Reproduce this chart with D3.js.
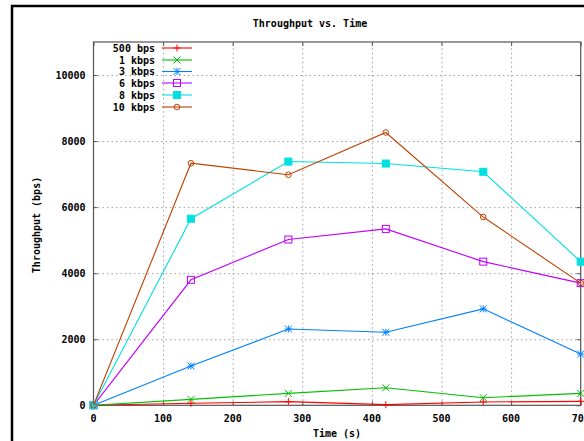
<!DOCTYPE html>
<meta charset="utf-8">
<script src="https://d3js.org/d3.v7.min.js"></script>
<style>
body { margin: 0; background: #fff; }
text { font-family: "DejaVu Sans Mono", monospace; font-weight: bold; font-size: 10px; fill: #000; }
.grid line { stroke: #a0a0a0; stroke-dasharray: 1.5,3; }
.grid path { display: none; }
</style>
<svg width="584" height="441"></svg>
<script>
// data
var times = [0, 140, 280, 420, 560, 700];
var names = ["500 bps", "1 kbps", "3 kbps", "6 kbps", "8 kbps", "10 kbps"];
var bps500 = [0, 60, 110, 20, 100, 120];
var kbps1 = [0, 180, 360, 530, 230, 360];
var kbps3 = [0, 1190, 2310, 2210, 2920, 1550];
var kbps6 = [0, 3800, 5020, 5340, 4350, 3700];
var kbps8 = [0, 5650, 7380, 7320, 7070, 4350];
var kbps10 = [0, 7330, 6980, 8260, 5700, 3700];
var xTicks = [0, 100, 200, 300, 400, 500, 600, 700];
var yTicks = [0, 2000, 4000, 6000, 8000, 10000];

var colors = ["#ff0000", "#00c000", "#0080ff", "#c000ff", "#00e0e0", "#c04000"];
var markers = ["plus", "cross", "star", "box", "fbox", "circle"];
var series = [bps500, kbps1, kbps3, kbps6, kbps8, kbps10];

var svg = d3.select("svg");
var pl = 93.5, pr = 580.7, pt = 42, pb = 405.3;

// outer frame (cropped at right/bottom)
svg.append("rect").attr("x", 12).attr("y", 6).attr("width", 600).attr("height", 500)
  .attr("fill", "none").attr("stroke", "#000").attr("stroke-width", 2.5);

var x = d3.scaleLinear().domain([0, 700]).range([pl, pr]);
var y = d3.scaleLinear().domain([0, 11000]).range([pb, pt]);

// gridlines
svg.append("g").attr("class", "grid")
  .attr("transform", "translate(0," + pb + ")")
  .call(d3.axisBottom(x).tickValues(xTicks.slice(1, -1)).tickSize(-(pb - pt)).tickFormat(""));
svg.append("g").attr("class", "grid")
  .attr("transform", "translate(" + pl + ",0)")
  .call(d3.axisLeft(y).tickValues(yTicks.slice(1)).tickSize(-(pr - pl)).tickFormat(""));

// axes with inward ticks
svg.append("g").attr("transform", "translate(0," + pb + ")")
  .call(d3.axisTop(x).tickValues(xTicks).tickSize(4).tickFormat(""));
svg.append("g").attr("transform", "translate(0," + pt + ")")
  .call(d3.axisBottom(x).tickValues(xTicks).tickSize(4).tickFormat(""));
svg.append("g").attr("transform", "translate(" + pl + ",0)")
  .call(d3.axisRight(y).tickValues(yTicks).tickSize(4).tickFormat(""));
svg.append("g").attr("transform", "translate(" + pr + ",0)")
  .call(d3.axisLeft(y).tickValues(yTicks).tickSize(4).tickFormat(""));
svg.selectAll(".domain").attr("stroke", "none");
svg.selectAll(".tick line").attr("stroke", "#555");

svg.append("rect").attr("x", pl).attr("y", pt)
  .attr("width", pr - pl).attr("height", pb - pt)
  .attr("fill", "none").attr("stroke", "#555").attr("stroke-width", 1.2);

// tick labels
svg.selectAll(".xl").data(xTicks).enter().append("text")
  .attr("x", function(d) { return x(d); }).attr("y", pb + 17)
  .attr("text-anchor", "middle").text(function(d) { return d; });
svg.selectAll(".yl").data(yTicks).enter().append("text")
  .attr("x", pl - 8).attr("y", function(d) { return y(d) + 4; })
  .attr("text-anchor", "end").text(function(d) { return d; });

svg.append("text").attr("x", 310).attr("y", 27).attr("text-anchor", "middle").text("Throughput vs. Time");
svg.append("text").attr("x", 337).attr("y", 437).attr("text-anchor", "middle").text("Time (s)");
svg.append("text").attr("transform", "translate(40,225) rotate(-90)")
  .attr("text-anchor", "middle").text("Throughput (bps)");

function marker(g, type, cx, cy, c) {
  var s = 3.5;
  if (type == "plus" || type == "star") {
    g.append("path").attr("d", "M" + (cx - s) + "," + cy + "H" + (cx + s) + "M" + cx + "," + (cy - s) + "V" + (cy + s))
      .attr("stroke", c).attr("fill", "none");
  }
  if (type == "cross" || type == "star") {
    g.append("path").attr("d", "M" + (cx - s) + "," + (cy - s) + "L" + (cx + s) + "," + (cy + s) +
      "M" + (cx - s) + "," + (cy + s) + "L" + (cx + s) + "," + (cy - s))
      .attr("stroke", c).attr("fill", "none");
  }
  if (type == "box" || type == "fbox") {
    g.append("rect").attr("x", cx - s).attr("y", cy - s).attr("width", 2 * s).attr("height", 2 * s)
      .attr("stroke", c).attr("fill", type == "fbox" ? c : "none");
  }
  if (type == "circle") {
    g.append("circle").attr("cx", cx).attr("cy", cy).attr("r", 2.8)
      .attr("stroke", c).attr("fill", "none");
  }
}

var line = d3.line().x(function(d, i) { return x(times[i]); }).y(function(d) { return y(d); });

series.forEach(function(vals, k) {
  var g = svg.append("g");
  g.append("path").datum(vals).attr("d", line)
    .attr("fill", "none").attr("stroke", colors[k]).attr("stroke-width", 1.1);
  vals.forEach(function(v, i) { marker(g, markers[k], x(times[i]), y(v), colors[k]); });
});

// legend
var legY = [48, 60, 71.5, 83, 95, 107];
names.forEach(function(n, k) {
  svg.append("text").attr("x", 155).attr("y", legY[k] + 3.5).attr("text-anchor", "end").text(n);
  svg.append("line").attr("x1", 162).attr("x2", 192).attr("y1", legY[k]).attr("y2", legY[k])
    .attr("stroke", colors[k]).attr("stroke-width", 1.1);
  marker(svg, markers[k], 177, legY[k], colors[k]);
});
</script>
